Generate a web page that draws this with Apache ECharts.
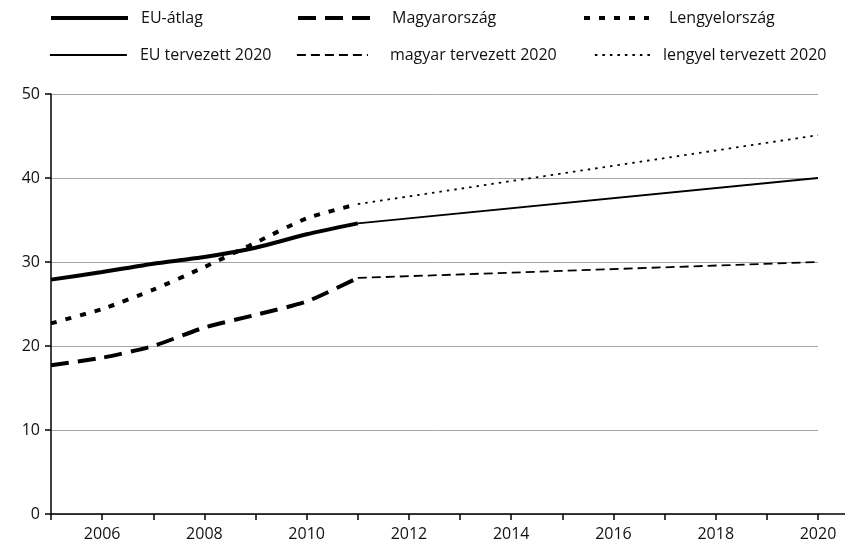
<!DOCTYPE html>
<html><head><meta charset="utf-8">
<script src="https://cdn.jsdelivr.net/npm/echarts@6/dist/echarts.min.js"></script>
<style>html,body{margin:0;padding:0;background:#fff}#c{width:845px;height:540px}</style>
</head><body><div id="c"></div>
<script>
// Data
const years = [2005, 2006, 2007, 2008, 2009, 2010, 2011];
const euActual = [27.9, 28.8, 29.8, 30.6, 31.7, 33.3, 34.6];
const huActual = [17.7, 18.6, 20.0, 22.2, 23.7, 25.3, 28.1];
const plActual = [22.7, 24.4, 26.7, 29.4, 32.3, 35.2, 36.9];
const planYears = [2011, 2020];
const euPlan = [34.6, 40.0];
const huPlan = [28.1, 30.0];
const plPlan = [36.9, 45.1];
const names = ['EU-átlag', 'Magyarország', 'Lengyelország', 'EU tervezett 2020', 'magyar tervezett 2020', 'lengyel tervezett 2020'];
const yTicks = [0, 10, 20, 30, 40, 50];

const pair = (xs, ys) => xs.map((x, i) => [x, ys[i]]);
const FONT = '"Open Sans", "Noto Sans", sans-serif';

const styles = [
  {width: 4, type: 'solid'},
  {width: 4, type: [18, 9]},
  {width: 4, type: [6, 9]},
  {width: 1.8, type: 'solid'},
  {width: 1.8, type: [9, 5]},
  {width: 1.8, type: [2.5, 5]}
];
const seriesData = [
  pair(years, euActual), pair(years, huActual), pair(years, plActual),
  pair(planYears, euPlan), pair(planYears, huPlan), pair(planYears, plPlan)
];

const legendPos = [
  {left: 49, top: 10, w: 77, gap: 8},
  {left: 296, top: 10, w: 75, gap: 14},
  {left: 582, top: 10, w: 65, gap: 15},
  {left: 49, top: 47, w: 77, gap: 8},
  {left: 296, top: 47, w: 71, gap: 17},
  {left: 594, top: 47, w: 58, gap: 5}
];

const chart = echarts.init(document.getElementById('c'), null, {renderer: 'canvas'});
const option = {
  animation: false,
  backgroundColor: '#fff',
  textStyle: {fontFamily: FONT},
  grid: {left: 51, right: 27, top: 94, bottom: 26, containLabel: false, outerBoundsMode: 'none'},
  legend: names.map((n, i) => ({
    data: [{
      name: n,
      itemStyle: {opacity: 0},
      lineStyle: {width: styles[i].width, type: styles[i].type, color: '#000', cap: 'butt'}
    }],
    left: legendPos[i].left, top: legendPos[i].top, padding: 0,
    itemWidth: legendPos[i].w, itemHeight: 16,
    selectedMode: false,
    textStyle: {fontFamily: FONT, fontSize: 16, color: '#111', padding: [0, 0, 0, legendPos[i].gap]}
  })),
  xAxis: {
    type: 'value', min: 2005, max: 2020, interval: 1,
    axisLine: {show: true, onZero: false, lineStyle: {color: '#000', width: 1.5}},
    axisTick: {show: true, length: 6, lineStyle: {color: '#000', width: 1.5}},
    splitLine: {show: false},
    axisLabel: {
      margin: 12, fontSize: 16, color: '#111', fontFamily: FONT,
      formatter: v => (v % 2 === 0 ? String(v) : '')
    }
  },
  yAxis: {
    type: 'value', min: yTicks[0], max: yTicks[yTicks.length - 1], interval: 10,
    axisLine: {show: true, lineStyle: {color: '#000', width: 1.5}},
    axisTick: {show: true, length: 6, lineStyle: {color: '#000', width: 1.5}},
    splitLine: {show: true, lineStyle: {color: '#a6a6a6', width: 1}},
    axisLabel: {margin: 11, fontSize: 16, color: '#111', fontFamily: FONT}
  },
  series: names.map((n, i) => ({
    name: n, type: 'line', data: seriesData[i],
    symbol: 'none', showSymbol: false,
    smooth: i < 3 ? 0.2 : false,
    lineStyle: {color: '#000', width: styles[i].width, type: styles[i].type, cap: 'butt'},
    itemStyle: {color: '#000'},
    z: 3
  }))
};
chart.setOption(option);
// extend bottom axis line to the right edge as in the reference
const p = chart.convertToPixel({gridIndex: 0}, [2020, 0]);
chart.setOption({graphic: [{type: 'line', shape: {x1: p[0], y1: p[1], x2: 845, y2: p[1]}, style: {stroke: '#000', lineWidth: 1.5}, silent: true}]});
</script></body></html>
